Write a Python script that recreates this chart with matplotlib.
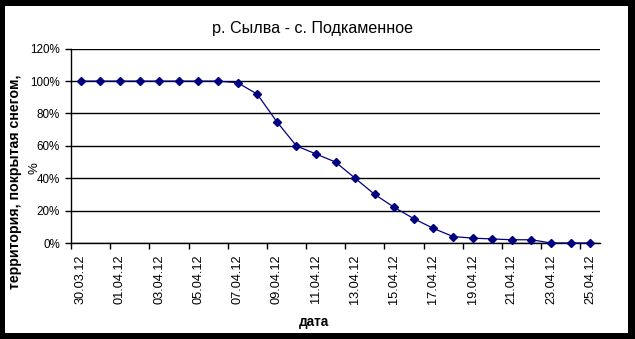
import matplotlib
matplotlib.use('Agg')
import matplotlib.pyplot as plt
from matplotlib.patches import Rectangle
import numpy as np

# Data: share of territory covered by snow, %
dates = ['30.03.12', '31.03.12', '01.04.12', '02.04.12', '03.04.12', '04.04.12',
         '05.04.12', '06.04.12', '07.04.12', '08.04.12', '09.04.12', '10.04.12',
         '11.04.12', '12.04.12', '13.04.12', '14.04.12', '15.04.12', '16.04.12',
         '17.04.12', '18.04.12', '19.04.12', '20.04.12', '21.04.12', '22.04.12',
         '23.04.12', '24.04.12', '25.04.12']
snow_cover = [100, 100, 100, 100, 100, 100, 100, 100, 99, 92, 75, 60, 55, 50,
              40, 30, 22, 15, 9, 4, 3, 2.5, 2, 2, 0, 0, 0]
y_ticks = [0, 20, 40, 60, 80, 100, 120]

navy = '#000080'
W, H = 635, 339

plt.rcParams['font.family'] = ['Liberation Sans', 'DejaVu Sans']

fig = plt.figure(figsize=(W / 100, H / 100), dpi=100)
fig.patch.set_facecolor('white')

# plot area in pixels: left 71, right 600, top 48.7, bottom 243
ax = fig.add_axes([71 / W, (H - 243) / H, (600 - 71) / W, (243 - 48.7) / H])

x = np.arange(len(dates))
ax.plot(x, snow_cover, color=navy, linewidth=0.9, marker='D',
        markersize=4.2, markerfacecolor=navy, markeredgecolor=navy,
        zorder=3, clip_on=False)

ax.set_xlim(-0.5, len(dates) - 0.5)
ax.set_ylim(0, 120)

# gridlines
ax.set_yticks(y_ticks)
ax.set_yticklabels([f'{v}%' for v in y_ticks], fontsize=8.4)
ax.yaxis.grid(True, color='black', linewidth=1.0)
ax.set_axisbelow(True)
ax.tick_params(axis='y', direction='out', length=4, width=1, pad=4)

# labels at every second category, tick marks between categories
ax.set_xticks(x[::2])
ax.set_xticklabels(dates[::2], rotation=90, fontsize=9.2)
ax.tick_params(axis='x', which='major', length=0, pad=8)
ax.set_xticks(np.arange(-0.5, len(dates) - 1, 2), minor=True)
ax.tick_params(axis='x', which='minor', direction='out', length=4, width=1)

for s in ['top', 'right']:
    ax.spines[s].set_visible(False)
for s in ['left', 'bottom']:
    ax.spines[s].set_linewidth(1.0)
    ax.spines[s].set_color('black')

# titles
fig.text(313 / W, 1 - 29 / H, 'р. Сылва - с. Подкаменное', ha='center',
         va='center', fontsize=11.6)
fig.text(314 / W, 1 - 322 / H, 'дата', ha='center', va='center',
         fontsize=9.8, fontweight='bold')
fig.text(15 / W, 1 - 182 / H, 'территория, покрытая снегом,', ha='center',
         va='center', rotation=90, fontsize=10.2, fontweight='bold')
fig.text(35 / W, 1 - 168 / H, '%', ha='center', va='center', rotation=90,
         fontsize=9.5)

# black frame around the chart
for (x0, y0, w, h) in [(0, 0, 5, H), (W - 7, 0, 7, H), (0, 0, W, 6), (0, H - 6, W, 6)]:
    fig.patches.append(Rectangle((x0 / W, 1 - (y0 + h) / H), w / W, h / H,
                                 transform=fig.transFigure, facecolor='black',
                                 edgecolor='none', zorder=10))

fig.savefig('out.png', dpi=100)
